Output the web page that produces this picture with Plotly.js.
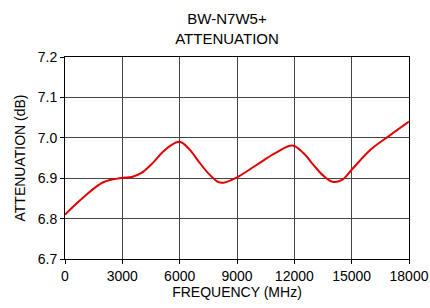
<!DOCTYPE html>
<html><head><meta charset="utf-8">
<script src="https://cdn.plot.ly/plotly-3.0.1.min.js"></script>
<style>html,body{margin:0;padding:0;background:#fff}#c{width:430px;height:308px}</style>
</head><body><div id="c"></div>
<script>
const freq = [0, 1000, 2000, 3000, 3500, 4000, 4600, 5100, 5500, 6000, 6500, 7000, 7500, 8000, 8300, 9000, 10000, 11000, 11900, 12500, 13000, 13500, 14000, 14500, 15000, 16000, 17000, 18000];
const atten = [6.81, 6.854, 6.89, 6.901, 6.903, 6.913, 6.938, 6.964, 6.980, 6.990, 6.972, 6.941, 6.912, 6.891, 6.889, 6.902, 6.932, 6.962, 6.981, 6.961, 6.933, 6.907, 6.891, 6.896, 6.921, 6.971, 7.006, 7.04];
const xTicks = [0, 3000, 6000, 9000, 12000, 15000, 18000];
const yTicks = [6.7, 6.8, 6.9, 7.0, 7.1, 7.2];
const titleText = 'BW-N7W5+<br>ATTENUATION';
const xTitle = 'FREQUENCY (MHz)';
const yTitle = 'ATTENUATION (dB)';

const font = {family: 'Liberation Sans, Arial, sans-serif', size: 14, color: '#000'};
Plotly.newPlot('c', [{
  x: freq, y: atten, type: 'scatter', mode: 'lines',
  line: {color: '#e00000', width: 2, shape: 'spline', smoothing: 1}
}], {
  width: 430, height: 308,
  margin: {l: 65, r: 21, t: 57, b: 49},
  paper_bgcolor: '#fff', plot_bgcolor: '#fff',
  font: font,
  showlegend: false,
  title: {text: titleText, x: 227/430, xanchor: 'center', yref: 'container', y: 1 - 24/308, yanchor: 'middle',
          font: {family: font.family, size: 15, color: '#000'}},
  xaxis: {
    range: [0, 18000], tickvals: xTicks, ticktext: xTicks.map(String),
    showgrid: true, gridcolor: '#444', gridwidth: 1,
    showline: true, linecolor: '#000', linewidth: 1, mirror: true,
    ticks: 'outside', ticklen: 4, tickcolor: '#000',
    zeroline: false,
    title: {text: xTitle, font: font, standoff: 2}
  },
  yaxis: {
    range: [6.7, 7.2], tickvals: yTicks, ticktext: yTicks.map(v => v.toFixed(1)),
    showgrid: true, gridcolor: '#444', gridwidth: 1,
    showline: true, linecolor: '#000', linewidth: 1, mirror: true,
    ticks: 'outside', ticklen: 4, tickcolor: '#000',
    zeroline: false,
    title: {text: yTitle, font: font, standoff: 8}
  }
}, {staticPlot: true});
</script></body></html>
